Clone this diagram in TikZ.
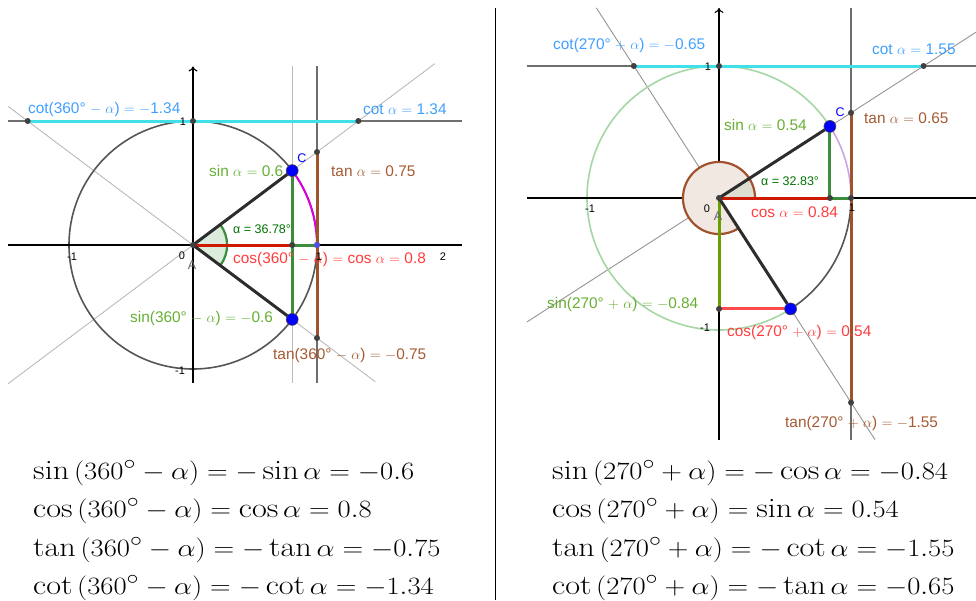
\documentclass[tikz,border=0pt]{standalone}
\usepackage{fontspec}
\usepackage{graphicx}
\newfontfamily\labfont{Liberation Sans}
\usetikzlibrary{arrows.meta}
\definecolor{circgray}{RGB}{85,85,85}
\definecolor{linegray}{RGB}{185,185,185}
\definecolor{dkgray}{RGB}{110,110,110}
\definecolor{segblack}{RGB}{45,45,45}
\definecolor{cyanline}{RGB}{64,224,232}
\definecolor{cyantext}{RGB}{64,160,255}
\definecolor{greentext}{RGB}{102,175,51}
\definecolor{greenline}{RGB}{60,140,60}
\definecolor{alphagreen}{RGB}{0,115,0}
\definecolor{redtext}{RGB}{255,60,60}
\definecolor{redline}{RGB}{205,25,0}
\definecolor{redlight}{RGB}{255,75,75}
\definecolor{brownc}{RGB}{160,82,45}
\definecolor{browntext}{RGB}{165,90,50}
\definecolor{brownfill}{RGB}{242,232,226}
\definecolor{alphafillR}{RGB}{222,222,208}
\definecolor{alphafillL}{RGB}{220,236,220}
\definecolor{magentac}{RGB}{220,0,220}
\definecolor{purplelight}{RGB}{205,165,225}
\definecolor{greencirc}{RGB}{165,215,165}
\definecolor{olivec}{RGB}{105,160,0}
\definecolor{ptblue}{RGB}{0,0,255}
\newcommand{\fml}[1]{\scalebox{1.15}[1]{$#1$}}
\begin{document}
\begin{tikzpicture}[x=1pt,y=-1pt,
  lab/.style={font=\labfont\fontsize{15.4}{18}\selectfont, inner sep=0pt, anchor=west},
  alab/.style={font=\labfont\fontsize{12.5}{14}\selectfont, inner sep=0pt, anchor=west, text=alphagreen},
  ticklab/.style={font=\labfont\fontsize{11}{12}\selectfont, inner sep=0pt, text=black},
  formula/.style={font=\fontsize{28}{34}\selectfont, inner sep=0pt, anchor=base west},
  ptsmall/.style={circle, fill=black!75, inner sep=0pt, minimum size=6pt},
  ptbig/.style={circle, fill=ptblue, draw=black!70, line width=0.6pt, inner sep=0pt, minimum size=12pt},
  axisline/.style={black, line width=1.1pt},
  auxline/.style={linegray, line width=0.9pt},
  darkaux/.style={dkgray, line width=1.1pt},
  thickseg/.style={line width=3pt},
  arrowtip/.style={-{To[length=5pt,width=9pt]}}
]
\useasboundingbox (0,0) rectangle (976,600);
% divider
\coordinate (divT) at (495,8);
\coordinate (divB) at (495,600);
\draw[black, line width=0.9pt] (divT) -- (divB);

% ================= LEFT DIAGRAM =================
\begin{scope}[shift={(193,245)}, x=124pt, y=124pt]
\coordinate (LA) at (0,0);
\coordinate (LC) at (0.8,0.6);
\coordinate (LD) at (0.8,-0.6);
\coordinate (LCx) at (0.8,0);
\coordinate (LX1) at (1,0);
\coordinate (LT) at (1,0.75);
\coordinate (LT2) at (1,-0.75);
\coordinate (LY1) at (0,1);
\coordinate (LK) at (1.3333,1);
\coordinate (LK2) at (-1.3333,1);
\coordinate (LxaL) at (-1.49,0);
\coordinate (LxaR) at (2.17,0);
\coordinate (LyaB) at (0,-1.11);
\coordinate (LyaT) at (0,1.44);
\coordinate (Lh1L) at (-1.49,1);
\coordinate (Lh1R) at (2.17,1);
\coordinate (LvcT) at (0.8,1.44);
\coordinate (LvcB) at (0.8,-1.11);
\coordinate (Lv1T) at (1,1.44);
\coordinate (Lv1B) at (1,-1.11);
\coordinate (LgA1) at (-1.49,-1.1175);
\coordinate (LgA2) at (1.95,1.4625);
\coordinate (LgB1) at (-1.49,1.1175);
\coordinate (LgB2) at (1.47,-1.1025);
% auxiliary lines
\draw[auxline] (LgA1) -- (LgA2);
\draw[auxline] (LgB1) -- (LgB2);
\draw[auxline] (LvcB) -- (LvcT);
\draw[darkaux] (Lv1B) -- (Lv1T);
\draw[darkaux] (Lh1L) -- (Lh1R);
% circle
\draw[circgray, line width=1.6pt] (LA) circle[radius=1];
\draw[magentac, line width=2pt] (LX1) arc[start angle=0, end angle=36.87, radius=1];
% axes
\draw[axisline] (LxaL) -- (LxaR);
\draw[axisline, arrowtip] (LyaB) -- (LyaT);
% angle sector
\fill[alphafillL] (LA) -- (-36.87:0.275) arc[start angle=-36.87, end angle=36.87, radius=0.275] -- cycle;
\draw[greenline, line width=2.2pt] (-36.87:0.275) arc[start angle=-36.87, end angle=36.87, radius=0.275];
% coloured segments
\draw[cyanline, thickseg] (LK2) -- (LK);
\draw[brownc, thickseg] (LT) -- (LT2);
\draw[greenline, thickseg] (LC) -- (LD);
\draw[greenline, thickseg] (LCx) -- (LX1);
\draw[redline, thickseg] (LA) -- (LCx);
\draw[segblack, thickseg] (LA) -- (LC);
\draw[segblack, thickseg] (LA) -- (LD);
\end{scope}
% points left
\node[ptsmall] (pLA) at (LA) {};
\node[ptsmall] (pLCx) at (LCx) {};
\node[circle, fill=blue!70, draw=black!60, inner sep=0pt, minimum size=6pt] (pLX1) at (LX1) {};
\node[ptsmall] (pLT) at (LT) {};
\node[ptsmall] (pLT2) at (LT2) {};
\node[ptsmall] (pLY1) at (LY1) {};
\node[ptsmall] (pLK) at (LK) {};
\node[ptsmall] (pLK2) at (LK2) {};
\node[ptbig] (pLC) at (LC) {};
\node[ptbig] (pLD) at (LD) {};
% labels left
\node[lab, text=cyantext] (lLcot2) at (28,110) {cot(360° $-$ $\alpha$) $=$ $-$1.34};
\node[lab, text=cyantext] (lLcot) at (363,109) {cot $\alpha$ $=$ 1.34};
\node[lab, text=greentext] (lLsin) at (209,171) {sin $\alpha$ $=$ 0.6};
\node[lab, text=browntext] (lLtan) at (331,171) {tan $\alpha$ $=$ 0.75};
\node[alab] (lLalpha) at (233,229.5) {α = 36.78°};
\node[lab, text=redtext] (lLcos) at (233,260) {cos(360° $-$ $\alpha$) $=$ cos $\alpha$ $=$ 0.8};
\node[lab, text=greentext] (lLsin2) at (130,319) {sin(360° $-$ $\alpha$) $=$ $-$0.6};
\node[lab, text=browntext] (lLtan2) at (273,355.5) {tan(360° $-$ $\alpha$) $=$ $-$0.75};
\node[ticklab, text=blue, font=\labfont\fontsize{12.5}{14}\selectfont] (lLC) at (302,158) {C};
\node[ticklab, text=black!60, font=\labfont\fontsize{12.5}{14}\selectfont] (lLA) at (192,265) {A};
\node[ticklab] (lL0) at (182,256) {0};
\node[ticklab] (lLm1x) at (72,257) {-1};
\node[ticklab] (lL1x) at (319,257) {1};
\node[ticklab] (lL2x) at (443,257) {2};
\node[ticklab] (lL1y) at (183,122) {1};
\node[ticklab] (lLm1y) at (180,371) {-1};

% ================= RIGHT DIAGRAM =================
\begin{scope}[shift={(719,198)}, x=132pt, y=132pt]
\coordinate (RA) at (0,0);
\coordinate (RC) at (0.8403,0.5422);
\coordinate (RD) at (0.5422,-0.8403);
\coordinate (RCx) at (0.8403,0);
\coordinate (RX1) at (1,0);
\coordinate (RT) at (1,0.6453);
\coordinate (RT2) at (1,-1.5497);
\coordinate (RY1) at (0,1);
\coordinate (RK) at (1.5497,1);
\coordinate (RK2) at (-0.6453,1);
\coordinate (RS) at (0,-0.8403);
\coordinate (RxaL) at (-1.455,0);
\coordinate (RxaR) at (1.95,0);
\coordinate (RyaB) at (0,-1.833);
\coordinate (RyaT) at (0,1.44);
\coordinate (Rh1L) at (-1.455,1);
\coordinate (Rh1R) at (1.95,1);
\coordinate (Rv1T) at (1,1.44);
\coordinate (Rv1B) at (1,-1.833);
\coordinate (RgA1) at (-1.455,-0.9389);
\coordinate (RgA2) at (1.95,1.2583);
\coordinate (RgB1) at (-0.9292,1.44);
\coordinate (RgB2) at (1.1812,-1.83);
% auxiliary lines
\draw[auxline, linegray!80!black] (RgA1) -- (RgA2);
\draw[auxline, linegray!80!black] (RgB1) -- (RgB2);
\draw[darkaux] (Rv1B) -- (Rv1T);
\draw[darkaux] (Rh1L) -- (Rh1R);
% circle
\draw[greencirc, line width=1.6pt] (32.83:1) arc[start angle=32.83, end angle=302.83, radius=1];
\draw[circgray, line width=1.6pt] (-57.17:1) arc[start angle=-57.17, end angle=0, radius=1];
\draw[purplelight, line width=1.6pt] (RX1) arc[start angle=0, end angle=32.83, radius=1];
% axes
\draw[axisline] (RxaL) -- (RxaR);
\draw[axisline, arrowtip] (RyaB) -- (RyaT);
% angle sectors
\fill[brownfill] (RA) -- (0:0.273) arc[start angle=0, end angle=302.83, radius=0.273] -- cycle;
\fill[alphafillR] (RA) -- (0:0.273) arc[start angle=0, end angle=32.83, radius=0.273] -- cycle;
\draw[brownc, line width=2.2pt] (0:0.273) arc[start angle=0, end angle=302.83, radius=0.273];
% coloured segments
\draw[cyanline, thickseg] (RK2) -- (RK);
\draw[brownc, thickseg] (RT) -- (RT2);
\draw[greenline, thickseg] (RC) -- (RCx);
\draw[greenline, thickseg] (RCx) -- (RX1);
\draw[redline, thickseg] (RA) -- (RCx);
\draw[olivec, thickseg] (RA) -- (RS);
\draw[redlight, thickseg] (RS) -- (RD);
\draw[segblack, thickseg] (RA) -- (RC);
\draw[segblack, thickseg] (RA) -- (RD);
\end{scope}
% points right
\node[ptsmall] (pRA) at (RA) {};
\node[ptsmall] (pRCx) at (RCx) {};
\node[ptsmall] (pRX1) at (RX1) {};
\node[ptsmall] (pRT) at (RT) {};
\node[ptsmall] (pRT2) at (RT2) {};
\node[ptsmall] (pRY1) at (RY1) {};
\node[ptsmall] (pRK) at (RK) {};
\node[ptsmall] (pRK2) at (RK2) {};
\node[ptsmall] (pRS) at (RS) {};
\node[ptbig] (pRC) at (RC) {};
\node[ptbig] (pRD) at (RD) {};
% labels right
\node[lab, text=cyantext] (lRcot2) at (553,46) {cot(270° $+$ $\alpha$) $=$ $-$0.65};
\node[lab, text=cyantext] (lRcot) at (872,49) {cot $\alpha$ $=$ 1.55};
\node[lab, text=greentext] (lRsin) at (724,124.5) {sin $\alpha$ $=$ 0.54};
\node[lab, text=browntext] (lRtan) at (864,118) {tan $\alpha$ $=$ 0.65};
\node[alab] (lRalpha) at (761,181) {α = 32.83°};
\node[lab, text=redtext] (lRcos) at (751,212) {cos $\alpha$ $=$ 0.84};
\node[lab, text=greentext] (lRsin2) at (547,305) {sin(270° $+$ $\alpha$) $=$ $-$0.84};
\node[lab, text=redtext] (lRcos2) at (727,333) {cos(270° $+$ $\alpha$) $=$ 0.54};
\node[lab, text=browntext] (lRtan2) at (785,424) {tan(270° $+$ $\alpha$) $=$ $-$1.55};
\node[ticklab, text=blue, font=\labfont\fontsize{12.5}{14}\selectfont] (lRC) at (840,112) {C};
\node[ticklab, text=black!60, font=\labfont\fontsize{12.5}{14}\selectfont] (lRA) at (718,216) {A};
\node[ticklab] (lR0) at (707,209) {0};
\node[ticklab] (lRm1x) at (590,209) {-1};
\node[ticklab] (lR1x) at (852,208) {1};
\node[ticklab] (lR1y) at (708,67) {1};
\node[ticklab] (lRm1y) at (705,328) {-1};

% ================= FORMULAS =================
\node[formula] (fL1) at (33,479) {\fml{\sin\left(360^\circ-\alpha\right)=-\sin\alpha=-0.6}};
\node[formula] (fL2) at (33,517) {\fml{\cos\left(360^\circ-\alpha\right)=\cos\alpha=0.8}};
\node[formula] (fL3) at (33,556) {\fml{\tan\left(360^\circ-\alpha\right)=-\tan\alpha=-0.75}};
\node[formula] (fL4) at (33,594) {\fml{\cot\left(360^\circ-\alpha\right)=-\cot\alpha=-1.34}};
\node[formula] (fR1) at (552,479) {\fml{\sin\left(270^\circ+\alpha\right)=-\cos\alpha=-0.84}};
\node[formula] (fR2) at (552,517) {\fml{\cos\left(270^\circ+\alpha\right)=\sin\alpha=0.54}};
\node[formula] (fR3) at (552,556) {\fml{\tan\left(270^\circ+\alpha\right)=-\cot\alpha=-1.55}};
\node[formula] (fR4) at (552,594) {\fml{\cot\left(270^\circ+\alpha\right)=-\tan\alpha=-0.65}};
\end{tikzpicture}
\end{document}
